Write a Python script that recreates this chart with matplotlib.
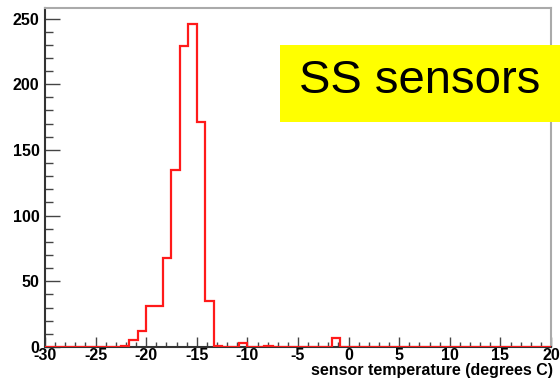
import numpy as np
import matplotlib
matplotlib.use("Agg")
import matplotlib.pyplot as plt
from matplotlib.patches import Rectangle
from matplotlib.ticker import MultipleLocator

# -------------------------------------------------------
# Histogram data (60 bins from -30 to 20 degrees C)
# -------------------------------------------------------
x_min = -30
x_max = 20
n_bins = 60
counts = [0, 0, 0, 0, 0, 0, 0, 0, 0, 1,
          5, 12, 31, 31, 68, 135, 229, 246, 171, 35,
          1, 0, 0, 3, 0, 0, 1, 0, 0, 0,
          0, 0, 0, 0, 7, 0, 0, 0, 0, 0,
          0, 0, 0, 0, 0, 0, 0, 0, 0, 0,
          0, 0, 0, 0, 0, 0, 0, 0, 0, 0]
x_label = "sensor temperature (degrees C)"
box_text = "SS sensors"

plt.rcParams['font.family'] = ['Liberation Sans', 'DejaVu Sans']
plt.rcParams['axes.unicode_minus'] = False

fig = plt.figure(figsize=(5.6, 3.82), dpi=100)
W, H = 560.0, 382.0
ax = fig.add_axes([45 / W, (H - 347) / H, (551 - 45) / W, (347 - 8) / H])

edges = np.linspace(x_min, x_max, n_bins + 1)
ax.stairs(counts, edges, color="#ff1a1a", linewidth=1.6, baseline=0, zorder=3)

ax.set_xlim(x_min, x_max)
ax.set_ylim(0, 258)
ax.xaxis.set_major_locator(MultipleLocator(5))
ax.xaxis.set_minor_locator(MultipleLocator(1))
ax.yaxis.set_major_locator(MultipleLocator(50))
ax.yaxis.set_minor_locator(MultipleLocator(10))

ax.tick_params(axis="x", which="major", direction="in", length=7.2, width=1,
               color="#444444", pad=0.5, labelsize=11.5)
ax.tick_params(axis="x", which="minor", direction="in", length=3.6, width=1,
               color="#444444")
ax.tick_params(axis="y", which="major", direction="in", length=10.8, width=1,
               color="#444444", pad=4, labelsize=11.5)
ax.tick_params(axis="y", which="minor", direction="in", length=5.8, width=1,
               color="#444444")
for lab in ax.get_xticklabels() + ax.get_yticklabels():
    lab.set_fontweight("bold")

ax.spines["left"].set_color("#333333")
ax.spines["left"].set_linewidth(1.5)
ax.spines["bottom"].set_color("#333333")
ax.spines["bottom"].set_linewidth(1.5)
ax.spines["top"].set_color("#aaaaaa")
ax.spines["top"].set_linewidth(1.5)
ax.spines["right"].set_color("#aaaaaa")
ax.spines["right"].set_linewidth(1.5)

fig.text(553 / W, 1 - 371 / H, x_label, ha="right", va="center",
         fontsize=11.5, fontweight="bold")

# yellow label box on top of the frame
fig.patches.append(Rectangle((280 / W, 1 - 122 / H), 1 - 280 / W, 77 / H,
                             transform=fig.transFigure, facecolor="#ffff00",
                             edgecolor="none", zorder=5))
fig.text(420 / W, 1 - 81 / H, box_text, ha="center", va="center",
         fontsize=34, zorder=6)

fig.savefig("out.png", dpi=100)
